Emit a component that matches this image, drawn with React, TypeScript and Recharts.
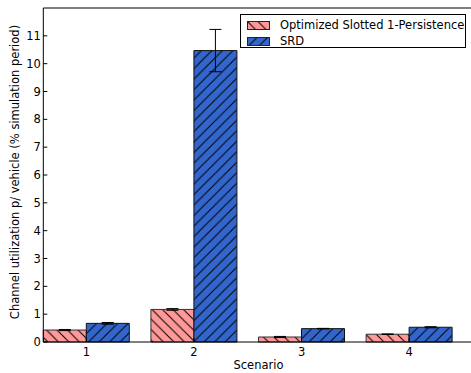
import React from "react";
import { BarChart, Bar, XAxis, YAxis, ErrorBar } from "recharts";

const scenarios = ["1", "2", "3", "4"];
const optimized = [0.43, 1.17, 0.18, 0.28];
const optimizedErr = [0.02, 0.03, 0.02, 0.01];
const srd = [0.67, 10.47, 0.48, 0.53];
const srdErr = [0.03, 0.76, 0.01, 0.02];
const yTicks = [0, 1, 2, 3, 4, 5, 6, 7, 8, 9, 10, 11];

const data = scenarios.map((s, i) => ({
  scenario: s,
  optimized: optimized[i],
  optimizedErr: optimizedErr[i],
  srd: srd[i],
  srdErr: srdErr[i],
}));

const PINK = "#ff9999";
const BLUE = "#3366cc";
const FONT = '"DejaVu Sans", sans-serif';

function Hatch({ id, color, dir }: { id: string; color: string; dir: "back" | "fwd" }) {
  const s = 10.5;
  const d =
    dir === "back"
      ? `M0,0 L${s},${s} M-2,${s - 2} L2,${s + 2} M${s - 2},-2 L${s + 2},2`
      : `M0,${s} L${s},0 M-2,2 L2,-2 M${s - 2},${s + 2} L${s + 2},${s - 2}`;
  return (
    <pattern id={id} patternUnits="userSpaceOnUse" width={s} height={s}>
      <rect width={s} height={s} fill={color} />
      <path d={d} stroke="#000" strokeWidth={1} />
    </pattern>
  );
}

function Swatch({ id, color, dir }: { id: string; color: string; dir: "back" | "fwd" }) {
  return (
    <svg width={23} height={9} style={{ display: "block" }}>
      <defs>
        <Hatch id={id} color={color} dir={dir} />
      </defs>
      <rect x={0.5} y={0.5} width={22} height={8} fill={`url(#${id})`} stroke="#222" strokeWidth={1} />
    </svg>
  );
}

export default function App() {
  return (
    <div
      style={{
        position: "absolute",
        left: 0,
        top: 0,
        width: 471,
        height: 373,
        overflow: "hidden",
        background: "#fff",
        fontFamily: FONT,
      }}
    >
      <BarChart
        width={480}
        height={373}
        data={data}
        margin={{ top: 0, right: 6.3, left: 0, bottom: 0 }}
        barCategoryGap="10%"
        barGap={0}
      >
        <defs>
          <Hatch id="hatch-opt" color={PINK} dir="back" />
          <Hatch id="hatch-srd" color={BLUE} dir="fwd" />
        </defs>
        <XAxis
          xAxisId="top"
          orientation="top"
          dataKey="scenario"
          height={8}
          tick={false}
          tickSize={-4}
          axisLine={{ stroke: "#000" }}
          tickLine={{ stroke: "#000" }}
          padding={{ left: -10.75, right: 10.75 }}
        />
        <XAxis
          dataKey="scenario"
          height={31}
          tickSize={-4}
          tickMargin={9.5}
          tick={{ fontSize: 11.5, fill: "#000", fontFamily: FONT }}
          axisLine={{ stroke: "#000" }}
          tickLine={{ stroke: "#000" }}
          padding={{ left: -10.75, right: 10.75 }}
          label={{
            content: (props: any) => {
              const vb = props.viewBox;
              return (
                <text
                  x={vb.x + vb.width / 2}
                  y={368.5}
                  textAnchor="middle"
                  fontSize={11.5}
                  fontFamily={FONT}
                  fill="#000"
                >
                  Scenario
                </text>
              );
            },
          }}
        />
        <YAxis
          width={43.3}
          domain={[0, 12]}
          ticks={yTicks}
          interval={0}
          tickSize={-4}
          tickMargin={6.5}
          tick={{ fontSize: 11.5, fill: "#000", fontFamily: FONT }}
          axisLine={{ stroke: "#000" }}
          tickLine={{ stroke: "#000" }}
          label={{
            content: (props: any) => {
              const vb = props.viewBox;
              const cy = vb.y + vb.height / 2 - 3;
              return (
                <text
                  x={19}
                  y={cy}
                  transform={`rotate(-90 19 ${cy})`}
                  textAnchor="middle"
                  fontSize={11.5}
                  fontFamily={FONT}
                  fill="#000"
                >
                  Channel utilization p/ vehicle (% simulation period)
                </text>
              );
            },
          }}
        />
        <Bar
          dataKey="optimized"
          fill="url(#hatch-opt)"
          stroke="#333"
          strokeWidth={1}
          isAnimationActive={false}
        >
          <ErrorBar dataKey="optimizedErr" width={6} stroke="#000" strokeWidth={1} direction="y" />
        </Bar>
        <Bar
          dataKey="srd"
          fill="url(#hatch-srd)"
          stroke="#111"
          strokeWidth={1}
          isAnimationActive={false}
        >
          <ErrorBar dataKey="srdErr" width={6} stroke="#000" strokeWidth={1} direction="y" />
        </Bar>
      </BarChart>

      {/* Legend */}
      <div
        style={{
          position: "absolute",
          left: 240,
          top: 14,
          width: 224,
          height: 32,
          border: "1px solid #000",
          background: "#fff",
          fontSize: 11.5,
          color: "#000",
        }}
      >
        {[
          { name: "Optimized Slotted 1-Persistence", id: "lg-opt", color: PINK, dir: "back" as const },
          { name: "SRD", id: "lg-srd", color: BLUE, dir: "fwd" as const },
        ].map((item, i) => (
          <div
            key={item.id}
            style={{
              position: "absolute",
              left: 6,
              top: 3 + i * 16,
              height: 14,
              display: "flex",
              alignItems: "center",
              gap: 10,
              whiteSpace: "nowrap",
            }}
          >
            <Swatch id={item.id} color={item.color} dir={item.dir} />
            <span>{item.name}</span>
          </div>
        ))}
      </div>
    </div>
  );
}
